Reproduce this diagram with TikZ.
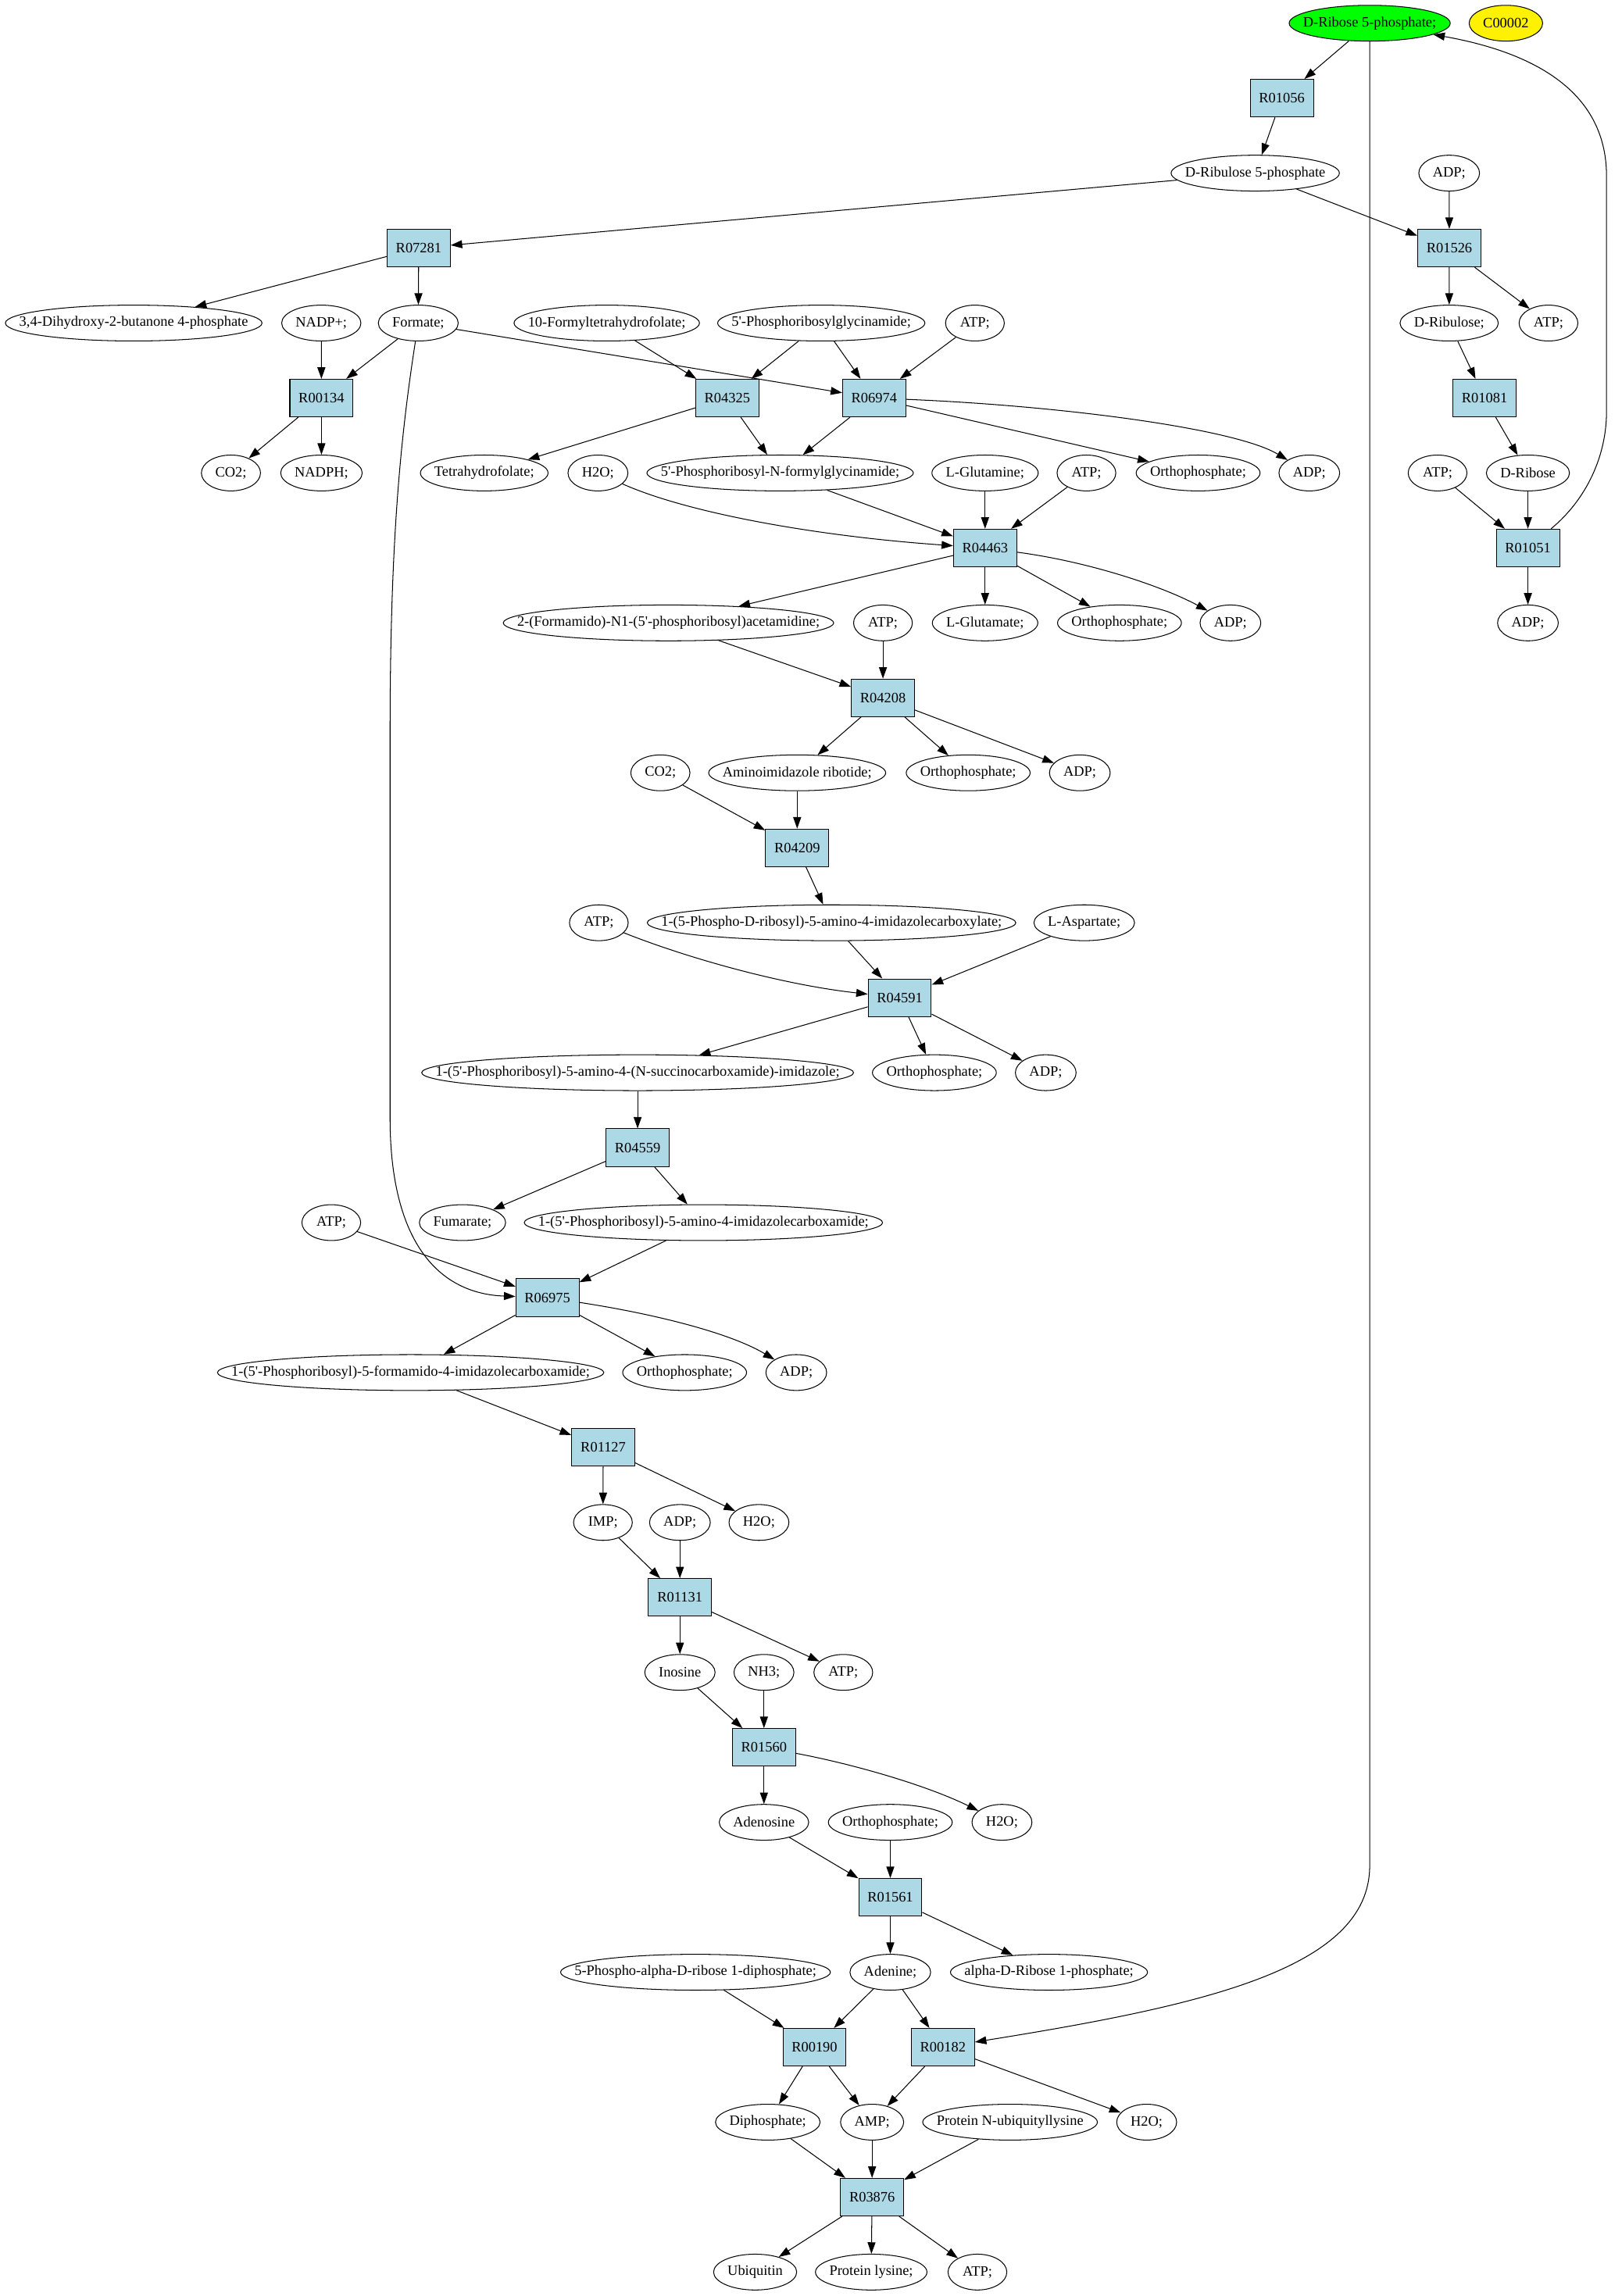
\documentclass[tikz,border=0pt]{standalone}
\usepackage{fontspec}
\usetikzlibrary{arrows.meta,shapes.geometric}
\newfontfamily\gvfont{Liberation Serif}
\definecolor{lightblue}{HTML}{ADD8E6}
\tikzset{every picture/.style={/utils/exec={\gvfont\fontsize{9.8}{11}\selectfont}}}
\tikzset{rxn/.style={draw,fill=lightblue,minimum width=43pt,minimum height=25.6pt,inner sep=0pt}}
% ellipse as wide as its text plus a margin
\tikzset{met/.style={draw,ellipse,inner xsep={6.72pt-0.14645*\the\wd\pgfnodeparttextbox},inner ysep=0pt,minimum width=40pt,minimum height=24.4pt}}
\tikzset{flux/.style={-{Triangle[length=7.8pt,width=5.4pt]}}}

\begin{document}
\begin{tikzpicture}[x=1pt,y=-51.03pt,line width=0.55pt]
    \fill [white] (0,-0.3096) rectangle (1104,30.3194);
    \useasboundingbox (0,-0.3096) rectangle (1104,30.3194);
    % compounds
    \node [met,fill=green] (rib5p) at (932.3,0) {D-Ribose 5-phosphate;};
    \node [met,fill=yellow] (c00002) at (1025,0) {C00002};
    \node [met] (ru5p) at (854.4,2) {D-Ribulose 5-phosphate};
    \node [met] (adp1526) at (986.4,2) {ADP;};
    \node [met] (dhbp) at (91,4) {3,4-Dihydroxy-2-butanone 4-phosphate};
    \node [met] (nadp) at (218.7,4) {NADP+;};
    \node [met] (formate) at (284.7,4) {Formate;};
    \node [met] (fthf) at (413,4) {10-Formyltetrahydrofolate;};
    \node [met] (gar) at (559,4) {5'-Phosphoribosylglycinamide;};
    \node [met] (atp6974) at (663.6,4) {ATP;};
    \node [met] (rul) at (986.4,4) {D-Ribulose;};
    \node [met] (atp1526) at (1054,4) {ATP;};
    \node [met] (co2a) at (157.2,6) {CO2;};
    \node [met] (nadph) at (218.8,6) {NADPH;};
    \node [met] (thf) at (329.6,6) {Tetrahydrofolate;};
    \node [met] (h2o4463) at (407,6) {H2O;};
    \node [met] (fgar) at (531,6) {5'-Phosphoribosyl-N-formylglycinamide;};
    \node [met] (gln) at (670.5,6) {L-Glutamine;};
    \node [met] (atp4463) at (739.5,6) {ATP;};
    \node [met] (pi6974) at (815.5,6) {Orthophosphate;};
    \node [met] (adp6974) at (891.2,6) {ADP;};
    \node [met] (atp1051) at (978.5,6) {ATP;};
    \node [met] (rib) at (1040,6) {D-Ribose};
    \node [met] (fgam) at (455,8) {2-(Formamido)-N1-(5'-phosphoribosyl)acetamidine;};
    \node [met] (atp4208) at (601,8) {ATP;};
    \node [met] (glu) at (670.5,8) {L-Glutamate;};
    \node [met] (pi4463) at (762,8) {Orthophosphate;};
    \node [met] (adp4463) at (837.5,8) {ADP;};
    \node [met] (adp1051) at (1040,8) {ADP;};
    \node [met] (co2b) at (449.5,10) {CO2;};
    \node [met] (air) at (542.6,10) {Aminoimidazole ribotide;};
    \node [met] (pi4208) at (659,10) {Orthophosphate;};
    \node [met] (adp4208) at (735,10) {ADP;};
    \node [met] (atp4591) at (407.6,12) {ATP;};
    \node [met] (cair) at (566,12) {1-(5-Phospho-D-ribosyl)-5-amino-4-imidazolecarboxylate;};
    \node [met] (asp) at (738,12) {L-Aspartate;};
    \node [met] (saicar) at (434,14) {1-(5'-Phosphoribosyl)-5-amino-4-(N-succinocarboxamide)-imidazole;};
    \node [met] (pi4591) at (636,14) {Orthophosphate;};
    \node [met] (adp4591) at (711.8,14) {ADP;};
    \node [met] (atp6975) at (225.5,16) {ATP;};
    \node [met] (fum) at (314.8,16) {Fumarate;};
    \node [met] (aicar) at (478.8,16) {1-(5'-Phosphoribosyl)-5-amino-4-imidazolecarboxamide;};
    \node [met] (faicar) at (279.5,18) {1-(5'-Phosphoribosyl)-5-formamido-4-imidazolecarboxamide;};
    \node [met] (pi6975) at (466,18) {Orthophosphate;};
    \node [met] (adp6975) at (542,18) {ADP;};
    \node [met] (imp) at (410.4,20) {IMP;};
    \node [met] (adp1131) at (462.8,20) {ADP;};
    \node [met] (h2o1127) at (516.6,20) {H2O;};
    \node [met] (ino) at (462.8,22) {Inosine};
    \node [met] (nh3) at (520,22) {NH3;};
    \node [met] (atp1131) at (574,22) {ATP;};
    \node [met] (ado) at (520,24) {Adenosine};
    \node [met] (pi1561) at (606,24) {Orthophosphate;};
    \node [met] (h2o1560) at (682,24) {H2O;};
    \node [met] (prpp) at (473.4,26) {5-Phospho-alpha-D-ribose 1-diphosphate;};
    \node [met] (ade) at (606,26) {Adenine;};
    \node [met] (r1p) at (714,26) {alpha-D-Ribose 1-phosphate;};
    \node [met] (ppi) at (522.6,28) {Diphosphate;};
    \node [met] (amp) at (593.6,28) {AMP;};
    \node [met] (ubk) at (687.5,28) {Protein N-ubiquityllysine};
    \node [met] (h2o0182) at (780.5,28) {H2O;};
    \node [met] (ub) at (514,30) {Ubiquitin};
    \node [met] (lys) at (593,30) {Protein lysine;};
    \node [met] (atp3876) at (665.3,30) {ATP;};
    % reactions
    \node [rxn] (r01056) at (872.5,1) {R01056};
    \node [rxn] (r07281) at (285,3) {R07281};
    \node [rxn] (r01526) at (986.5,3) {R01526};
    \node [rxn] (r00134) at (218.8,5) {R00134};
    \node [rxn] (r04325) at (495,5) {R04325};
    \node [rxn] (r06974) at (595,5) {R06974};
    \node [rxn] (r01081) at (1010.5,5) {R01081};
    \node [rxn] (r04463) at (670.5,7) {R04463};
    \node [rxn] (r01051) at (1040,7) {R01051};
    \node [rxn] (r04208) at (601,9) {R04208};
    \node [rxn] (r04209) at (542.6,11) {R04209};
    \node [rxn] (r04591) at (612.4,13) {R04591};
    \node [rxn] (r04559) at (434,15) {R04559};
    \node [rxn] (r06975) at (372.6,17) {R06975};
    \node [rxn] (r01127) at (410.6,19) {R01127};
    \node [rxn] (r01131) at (462.8,21) {R01131};
    \node [rxn] (r01560) at (520,23) {R01560};
    \node [rxn] (r01561) at (606,25) {R01561};
    \node [rxn] (r00190) at (554.4,27) {R00190};
    \node [rxn] (r00182) at (641.8,27) {R00182};
    \node [rxn] (r03876) at (593.6,29) {R03876};
    % pentose branch
    \draw [flux] (rib5p) -- (r01056);
    \draw [flux] (r01056) -- (ru5p);
    \draw [flux] (ru5p) -- (r07281);
    \draw [flux] (ru5p) -- (r01526);
    \draw [flux] (adp1526) -- (r01526);
    \draw [flux] (r01526) -- (rul);
    \draw [flux] (r01526) -- (atp1526);
    \draw [flux] (rul) -- (r01081);
    \draw [flux] (r01081) -- (rib);
    \draw [flux] (rib) -- (r01051);
    \draw [flux] (atp1051) -- (r01051);
    \draw [flux] (r01051) -- (adp1051);
    \draw [flux] (r01051) .. controls (1080,6.35) and (1093.5,5.77) .. (1093.5,5.18) -- (1093.5,2.04) .. controls (1093.5,0.866) and (1040,0.376) .. (rib5p);
    \draw [flux] (rib5p) -- (932.3,24.58) .. controls (932.3,25.95) and (820,26.44) .. (r00182);
    % formate
    \draw [flux] (r07281) -- (dhbp);
    \draw [flux] (r07281) -- (formate);
    \draw [flux] (formate) -- (r00134);
    \draw [flux] (nadp) -- (r00134);
    \draw [flux] (r00134) -- (co2a);
    \draw [flux] (r00134) -- (nadph);
    \draw [flux] (formate) -- (r06974);
    \draw [flux] (formate) .. controls (272,5.6) and (265.5,7.0) .. (265.5,9.5) -- (265.5,14.6) .. controls (265.5,16.3) and (300,16.95) .. (r06975);
    % purine chain
    \draw [flux] (fthf) -- (r04325);
    \draw [flux] (gar) -- (r04325);
    \draw [flux] (gar) -- (r06974);
    \draw [flux] (atp6974) -- (r06974);
    \draw [flux] (r04325) -- (thf);
    \draw [flux] (r04325) -- (fgar);
    \draw [flux] (r06974) -- (fgar);
    \draw [flux] (r06974) -- (pi6974);
    \draw [flux] (r06974) .. controls (720,5.1) and (840,5.4) .. (adp6974);
    \draw [flux] (fgar) -- (r04463);
    \draw [flux] (h2o4463) .. controls (470,6.55) and (560,6.85) .. (r04463);
    \draw [flux] (gln) -- (r04463);
    \draw [flux] (atp4463) -- (r04463);
    \draw [flux] (r04463) -- (fgam);
    \draw [flux] (r04463) -- (glu);
    \draw [flux] (r04463) -- (pi4463);
    \draw [flux] (r04463) .. controls (740,7.18) and (790,7.5) .. (adp4463);
    \draw [flux] (fgam) -- (r04208);
    \draw [flux] (atp4208) -- (r04208);
    \draw [flux] (r04208) -- (air);
    \draw [flux] (r04208) -- (pi4208);
    \draw [flux] (r04208) -- (adp4208);
    \draw [flux] (air) -- (r04209);
    \draw [flux] (co2b) -- (r04209);
    \draw [flux] (r04209) -- (cair);
    \draw [flux] (cair) -- (r04591);
    \draw [flux] (atp4591) .. controls (465,12.45) and (530,12.82) .. (r04591);
    \draw [flux] (asp) -- (r04591);
    \draw [flux] (r04591) -- (saicar);
    \draw [flux] (r04591) -- (pi4591);
    \draw [flux] (r04591) -- (adp4591);
    \draw [flux] (saicar) -- (r04559);
    \draw [flux] (r04559) -- (fum);
    \draw [flux] (r04559) -- (aicar);
    \draw [flux] (aicar) -- (r06975);
    \draw [flux] (atp6975) -- (r06975);
    \draw [flux] (r06975) -- (faicar);
    \draw [flux] (r06975) -- (pi6975);
    \draw [flux] (r06975) .. controls (440,17.2) and (495,17.45) .. (adp6975);
    \draw [flux] (faicar) -- (r01127);
    \draw [flux] (r01127) -- (imp);
    \draw [flux] (r01127) -- (h2o1127);
    \draw [flux] (imp) -- (r01131);
    \draw [flux] (adp1131) -- (r01131);
    \draw [flux] (r01131) -- (ino);
    \draw [flux] (r01131) -- (atp1131);
    \draw [flux] (ino) -- (r01560);
    \draw [flux] (nh3) -- (r01560);
    \draw [flux] (r01560) -- (ado);
    \draw [flux] (r01560) .. controls (580,23.22) and (630,23.5) .. (h2o1560);
    \draw [flux] (ado) -- (r01561);
    \draw [flux] (pi1561) -- (r01561);
    \draw [flux] (r01561) -- (ade);
    \draw [flux] (r01561) -- (r1p);
    \draw [flux] (prpp) -- (r00190);
    \draw [flux] (ade) -- (r00190);
    \draw [flux] (ade) -- (r00182);
    \draw [flux] (r00190) -- (ppi);
    \draw [flux] (r00190) -- (amp);
    \draw [flux] (r00182) -- (amp);
    \draw [flux] (r00182) -- (h2o0182);
    \draw [flux] (ppi) -- (r03876);
    \draw [flux] (amp) -- (r03876);
    \draw [flux] (ubk) -- (r03876);
    \draw [flux] (r03876) -- (ub);
    \draw [flux] (r03876) -- (lys);
    \draw [flux] (r03876) -- (atp3876);
\end{tikzpicture}
\end{document}
